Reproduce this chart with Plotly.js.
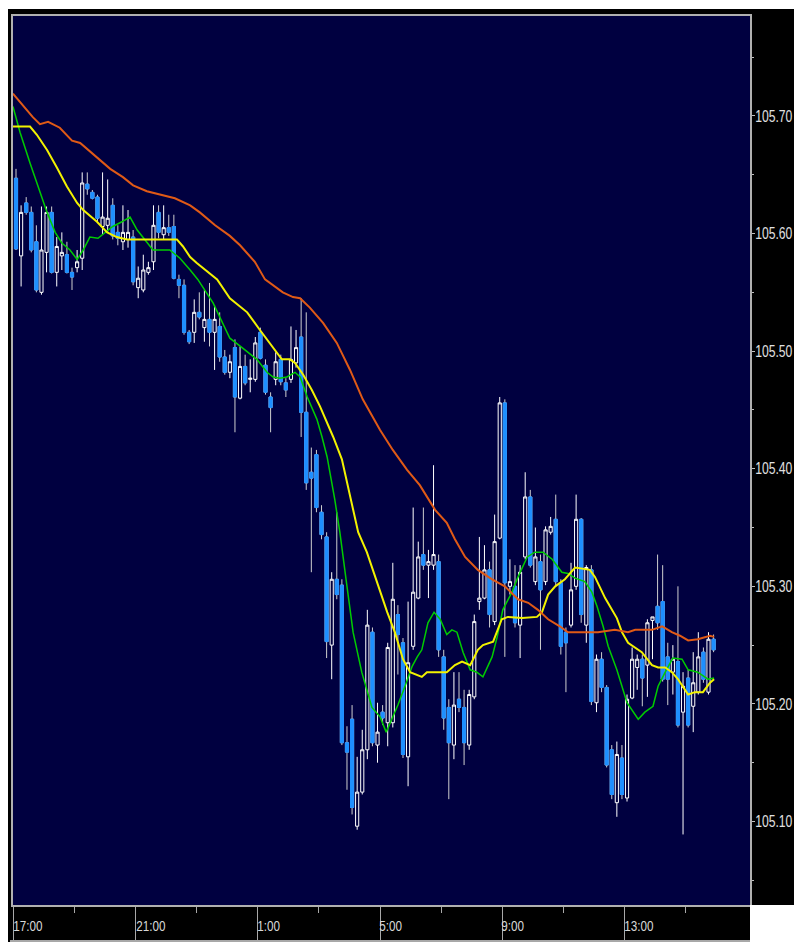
<!DOCTYPE html>
<html>
<head>
<meta charset="utf-8">
<script src="https://cdn.plot.ly/plotly-3.0.1.min.js"></script>
<style>
  html, body { margin:0; padding:0; background:#ffffff; width:794px; height:945px; overflow:hidden; }
  #chart { position:absolute; left:8px; top:9px; width:786px; height:933px; }
  #cornerR { position:absolute; left:750px; top:905px; width:44px; height:40px; background:#ffffff; z-index:10; }
  #bottomLine { position:absolute; left:10px; top:940px; width:740px; height:2px; background:#a8a8a8; z-index:10; }
</style>
</head>
<body>
<div id="chart"></div>
<div id="cornerR"></div>
<div id="bottomLine"></div>
<script>
// ---- data (10-minute candles) ----
const open = [
105.647,105.581,105.626,105.618,105.593,105.550,105.584,105.618,105.567,105.581,
105.582,105.567,105.571,105.579,105.642,105.635,105.631,105.606,105.607,105.624,
105.601,105.593,105.595,105.597,105.554,105.552,105.567,105.576,105.618,105.599,
105.605,105.606,105.561,105.556,105.516,105.516,105.533,105.520,105.527,105.516,
105.521,105.495,105.482,105.503,105.460,105.487,105.476,105.476,105.516,105.488,
105.461,105.476,105.493,105.473,105.476,105.490,105.512,105.448,105.397,105.412,
105.363,105.342,105.250,105.306,105.301,105.167,105.187,105.096,105.125,105.161,
105.261,105.165,105.193,105.184,105.184,105.276,105.252,105.155,105.249,105.290,
105.327,105.318,105.318,105.321,105.240,105.197,105.165,105.204,105.197,105.165,
105.206,105.287,105.290,105.314,105.270,105.341,105.456,105.300,105.300,105.267,
105.325,105.376,105.304,105.321,105.304,105.346,105.357,105.303,105.261,105.267,
105.300,105.357,105.267,105.314,105.201,105.238,105.214,105.161,105.116,105.154,
105.120,105.205,105.231,105.238,105.233,105.271,105.283,105.287,105.240,105.227,
105.236,105.193,105.222,105.198,105.210,105.244,105.210,105.255];
const high = [
105.655,105.624,105.631,105.623,105.607,105.623,105.623,105.623,105.597,105.601,
105.593,105.571,105.586,105.652,105.652,105.637,105.633,105.652,105.646,105.630,
105.607,105.624,105.620,105.603,105.572,105.582,105.576,105.624,105.624,105.624,
105.616,105.616,105.565,105.561,105.518,105.544,105.550,105.552,105.558,105.539,
105.533,105.501,105.497,105.510,105.504,105.497,105.493,105.512,105.520,105.493,
105.465,105.499,105.497,105.477,105.521,105.518,105.545,105.533,105.418,105.416,
105.369,105.346,105.312,105.363,105.306,105.181,105.199,105.155,105.178,105.280,
105.265,105.201,105.199,105.252,105.320,105.284,105.256,105.287,105.367,105.338,
105.367,105.331,105.403,105.327,105.246,105.204,105.227,105.227,105.212,105.212,
105.276,105.342,105.335,105.321,105.361,105.461,105.459,105.323,105.318,105.318,
105.397,105.382,105.350,105.327,105.351,105.359,105.378,105.306,105.265,105.320,
105.378,105.358,105.318,105.318,105.242,105.244,105.216,105.165,105.168,105.165,
105.208,105.248,105.242,105.242,105.272,105.274,105.327,105.318,105.252,105.250,
105.300,105.227,105.229,105.244,105.261,105.248,105.261,105.259];
const low = [
105.586,105.555,105.616,105.584,105.550,105.548,105.567,105.566,105.555,105.569,
105.566,105.552,105.567,105.569,105.633,105.629,105.610,105.599,105.601,105.595,
105.590,105.586,105.588,105.556,105.545,105.550,105.565,105.569,105.596,105.595,
105.598,105.561,105.545,105.514,105.506,105.507,105.527,105.508,105.504,105.484,
105.491,105.480,105.477,105.431,105.459,105.471,105.465,105.474,105.493,105.463,
105.431,105.471,105.471,105.461,105.473,105.486,105.427,105.382,105.312,105.363,
105.340,105.239,105.221,105.289,105.165,105.127,105.106,105.093,105.123,105.153,
105.164,105.150,105.182,105.164,105.180,105.225,105.154,105.130,105.246,105.289,
105.314,105.290,105.314,105.240,105.178,105.119,105.153,105.193,105.148,105.161,
105.204,105.280,105.289,105.265,105.267,105.340,105.240,105.293,105.265,105.239,
105.323,105.316,105.301,105.246,105.301,105.344,105.301,105.242,105.210,105.265,
105.297,105.269,105.252,105.199,105.193,105.210,105.146,105.119,105.104,105.119,
105.117,105.204,105.212,105.198,105.206,105.238,105.263,105.219,105.199,105.208,
105.180,105.089,105.180,105.176,105.208,105.218,105.208,105.244];
const close = [
105.587,105.618,105.618,105.586,105.552,105.586,105.618,105.567,105.589,105.584,
105.567,105.563,105.576,105.643,105.638,105.630,105.613,105.614,105.613,105.598,
105.596,105.601,105.601,105.559,105.562,105.569,105.571,105.607,105.601,105.605,
105.601,105.562,105.556,105.516,105.508,105.533,105.529,105.527,105.516,105.527,
105.495,105.482,105.491,105.461,105.487,105.473,105.477,105.507,105.494,105.465,
105.452,105.491,105.474,105.467,105.493,105.503,105.448,105.388,105.392,105.367,
105.344,105.253,105.306,105.293,105.167,105.159,105.112,105.125,105.161,105.267,
105.167,105.176,105.188,105.248,105.289,105.259,105.157,105.235,105.295,105.325,
105.318,105.321,105.327,105.246,105.188,105.167,105.199,105.197,105.167,105.208,
105.270,105.290,105.314,105.276,105.338,105.456,105.303,105.304,105.269,105.312,
105.376,105.318,105.325,105.297,105.348,105.351,105.304,105.249,105.252,105.297,
105.357,105.276,105.316,105.202,105.238,105.214,105.148,105.123,105.157,105.123,
105.204,105.238,105.238,105.222,105.269,105.274,105.269,105.221,105.221,105.238,
105.182,105.215,105.182,105.218,105.240,105.221,105.255,105.246];

// moving averages at candle positions (candle index)
const maLongIdx = [-0.6,1.4,3.3,4.7,6.3,8.6,11,12.6,14.5,16.5,18.5,21,23,25.7,28.3,31.2,34.2,36.1,39.1,42,44,46.9,48.9,50.5,52.4,54.4,55.8,57.7,60.3,63,65.6,68.1,71.5,74,76.8,79.3,82.3,84.6,86.2,88.2,90.7,93.5,96,98.6,100.6,102.5,104.5,106.8,108.4,111.2,114.3,117.6,120.2,121.6,124.9,126.9,128.8,130.4,132,133.9,136.3,137.1];
const maLong = [105.719,105.709,105.699,105.693,105.695,105.690,105.679,105.677,105.670,105.663,105.655,105.648,105.641,105.636,105.633,105.630,105.624,105.618,105.607,105.598,105.590,105.576,105.561,105.556,105.550,105.546,105.545,105.537,105.524,105.507,105.484,105.459,105.433,105.416,105.399,105.386,105.365,105.354,105.340,105.325,105.314,105.306,105.300,105.289,105.286,105.280,105.272,105.266,105.261,105.261,105.261,105.263,105.261,105.263,105.263,105.266,105.261,105.258,105.254,105.255,105.258,105.257];
const maMidIdx = [-0.6,1.2,2.75,4.1,6.1,8.05,10,12,13.2,15.9,17.9,19.8,21.8,26.3,31.6,32.8,34.2,35.5,39.5,42,45.4,47.9,50.5,52.2,53.8,54.8,56.4,58.1,59.7,62.3,64,65.6,67.2,68.9,70.9,72.9,74.4,76,77.4,79.7,80.7,84.6,86.2,87.6,89.2,90.7,91.7,93.7,95.4,96.6,99.4,102.3,103.3,104.5,105.9,107.8,109.8,112.7,113.7,115.7,118,119,120.2,122.9,124.9,126.1,127.5,128.8,130,132,133.3,134.9,136.3,137.1];
const maMid = [105.691,105.691,105.691,105.684,105.671,105.656,105.640,105.626,105.620,105.610,105.601,105.597,105.595,105.595,105.595,105.589,105.580,105.575,105.561,105.545,105.533,105.518,105.503,105.493,105.493,105.490,105.480,105.467,105.453,105.427,105.408,105.376,105.346,105.329,105.303,105.278,105.261,105.238,105.227,105.223,105.227,105.227,105.233,105.236,105.233,105.246,105.250,105.253,105.272,105.274,105.273,105.274,105.278,105.293,105.300,105.306,105.316,105.314,105.308,105.290,105.273,105.261,105.252,105.244,105.233,105.231,105.231,105.227,105.221,105.208,105.210,105.210,105.218,105.221];
const maShortIdx = [-0.6,0.8,2.75,4.7,6.1,7.7,9,10.6,12,13.2,14.5,16.1,17.5,19,20.8,22.4,23.8,25.7,26.9,30.2,32.2,34.2,35.7,38.7,42,44.4,47.3,49.3,50.5,51.8,53.2,54.8,55.8,57.2,59.1,60.1,61.1,62.6,63.6,65,66.2,67.9,69.9,71.5,72.7,73.8,75,76.4,77.8,78.8,79.7,80.9,82.1,83.3,84.6,85.6,86.6,87.8,89.2,90.5,91.7,93.5,94.5,95.6,97.4,98.6,100.4,101.9,103.5,105.3,107.2,108.4,109.8,111.7,113.1,114.1,115.3,116.3,118,119,120,122.2,123.5,125.1,126.1,127.5,129,130.8,132,133.9,135.9,137.1];
const maShort = [105.708,105.686,105.660,105.635,105.618,105.601,105.592,105.586,105.578,105.586,105.597,105.596,105.601,105.606,105.610,105.614,105.603,105.592,105.586,105.586,105.579,105.569,105.561,105.541,105.511,105.503,105.493,105.482,105.478,105.477,105.478,105.482,105.478,105.461,105.442,105.427,105.410,105.374,105.346,105.300,105.261,105.227,105.197,105.189,105.176,105.187,105.199,105.215,105.232,105.240,105.246,105.269,105.278,105.272,105.259,105.263,105.261,105.244,105.229,105.227,105.223,105.240,105.257,105.280,105.295,105.308,105.325,105.329,105.329,105.323,105.312,105.311,105.307,105.304,105.295,105.283,105.266,105.249,105.229,105.215,105.201,105.187,105.193,105.198,105.215,105.227,105.239,105.238,105.229,105.227,105.221,105.222];

// time axis
const tickTimes  = ['2020-01-06 17:00','2020-01-06 21:00','2020-01-07 01:00','2020-01-07 05:00','2020-01-07 09:00','2020-01-07 13:00'];
const tickLabels = ['17:00','21:00','1:00','5:00','9:00','13:00'];
const minorTimes = ['2020-01-06 19:00','2020-01-06 23:00','2020-01-07 03:00','2020-01-07 07:00','2020-01-07 11:00','2020-01-07 15:00'];
const firstCandleMid = Date.UTC(2020,0,6,17,5,0); // middle of the 17:00-17:10 candle
const candleMs = 600000;

function tAt(idx){
  const d = new Date(firstCandleMid + Math.round(idx*candleMs));
  const p = n => String(n).padStart(2,'0');
  return d.getUTCFullYear()+'-'+p(d.getUTCMonth()+1)+'-'+p(d.getUTCDate())+' '+
         p(d.getUTCHours())+':'+p(d.getUTCMinutes())+':'+p(d.getUTCSeconds());
}
const times = open.map((_, i) => tAt(i));

// blue bodies drawn over the bearish candles so that their wicks stay light
const dn = open.map((o, i) => i).filter(i => close[i] < open[i]);

const FONT = '"Liberation Sans", Arial, sans-serif';
const NAVY = '#000040';
const BLUE = '#1e8fff';

const traces = [
  {
    type:'candlestick', x:times, open:open, high:high, low:low, close:close,
    increasing:{line:{color:'#ffffff', width:1}, fillcolor:NAVY},
    decreasing:{line:{color:'#cfcfcf', width:1}, fillcolor:BLUE},
    whiskerwidth:0, hoverinfo:'skip', showlegend:false
  },
  {
    type:'candlestick', x:dn.map(i=>times[i]), open:dn.map(i=>open[i]), close:dn.map(i=>close[i]),
    high:dn.map(i=>open[i]), low:dn.map(i=>close[i]),
    increasing:{line:{color:BLUE, width:1}, fillcolor:BLUE},
    decreasing:{line:{color:BLUE, width:1}, fillcolor:BLUE},
    whiskerwidth:0, hoverinfo:'skip', showlegend:false
  },
  { type:'scatter', mode:'lines', x:maShortIdx.map(tAt), y:maShort,
    line:{color:'#00cc00', width:1.5}, hoverinfo:'skip', showlegend:false },
  { type:'scatter', mode:'lines', x:maMidIdx.map(tAt), y:maMid,
    line:{color:'#f2f200', width:2}, hoverinfo:'skip', showlegend:false },
  { type:'scatter', mode:'lines', x:maLongIdx.map(tAt), y:maLong,
    line:{color:'#e05a16', width:2}, hoverinfo:'skip', showlegend:false }
];

const annotations = tickTimes.map((t, i) => ({
  x:t, xref:'x', y:0, yref:'paper', xanchor:'left', yanchor:'top',
  xshift:-6, yshift:-10, text:tickLabels[i], showarrow:false,
  font:{family:FONT, size:15, color:'#d8d8d8'}
}));

const layout = {
  width:786, height:933,
  margin:{l:5, r:44, t:7, b:37, pad:0},
  paper_bgcolor:'#000000', plot_bgcolor:NAVY,
  font:{family:FONT, color:'#d8d8d8'},
  showlegend:false, boxgap:0.12,
  xaxis:{
    type:'date', range:['2020-01-06 16:59:06','2020-01-07 17:06:30'],
    rangeslider:{visible:false}, showgrid:false, zeroline:false,
    showline:true, mirror:true, linecolor:'#b0b0b0', linewidth:2,
    tickmode:'array', tickvals:tickTimes, showticklabels:false,
    ticks:'outside', ticklen:35, tickwidth:1, tickcolor:'#a8a8a8',
    minor:{tickmode:'array', tickvals:minorTimes, ticks:'outside', ticklen:6, tickwidth:1, tickcolor:'#a8a8a8', showgrid:false},
    fixedrange:true
  },
  yaxis:{
    side:'right', range:[105.029, 105.785],
    tickmode:'linear', tick0:105.0, dtick:0.1, tickformat:'.2f',
    showgrid:false, zeroline:false,
    showline:true, mirror:true, linecolor:'#b0b0b0', linewidth:2,
    ticks:'outside', ticklen:3, tickwidth:1, tickcolor:'#c0c0c0',
    ticklabelstandoff:-3,
    minor:{dtick:0.05, ticks:'outside', ticklen:2, tickcolor:'#c0c0c0', showgrid:false},
    tickfont:{family:FONT, size:16, color:'#e0e0e0'},
    fixedrange:true
  },
  annotations:annotations
};

// the original uses a tall, narrow bitmap font: squeeze the text horizontally
function squeeze(el, sx){
  const x = parseFloat(el.getAttribute('x')) || 0;
  const prev = el.getAttribute('transform') || '';
  el.setAttribute('transform', (prev + ' translate(' + x + ',0) scale(' + sx + ',1) translate(' + (-x) + ',0)').trim());
}
function narrowText(){
  document.querySelectorAll('#chart .ytick text').forEach(t => squeeze(t, 0.76));
  document.querySelectorAll('#chart .annotation-text').forEach(t => squeeze(t, 0.78));
}

Plotly.newPlot('chart', traces, layout, {staticPlot:true, displayModeBar:false}).then(narrowText);
</script>
</body>
</html>
